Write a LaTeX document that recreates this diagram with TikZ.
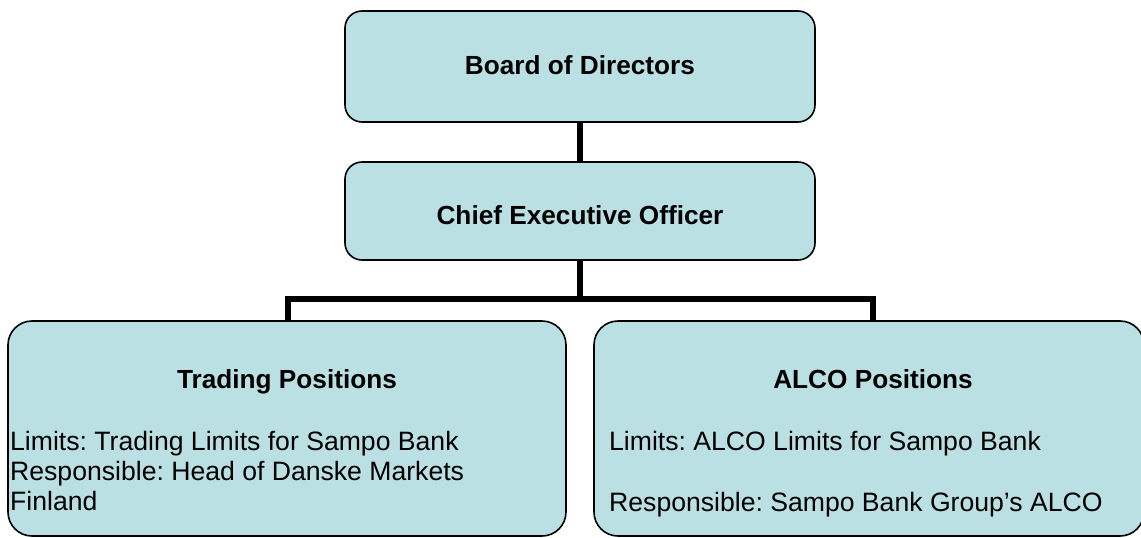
\documentclass[tikz,border=0pt]{standalone}
\usepackage{fontspec}
\setmainfont{Liberation Sans}
\usetikzlibrary{backgrounds}
\frenchspacing
\definecolor{boxfill}{RGB}{187,224,227}
\tikzset{
  x=1pt, y=-1pt,
  topbox/.style={draw=black, line width=1.6pt, fill=boxfill, rounded corners=17pt,
    rectangle, inner sep=0pt, minimum width=470pt, minimum height=#1},
  botbox/.style={draw=black, line width=1.6pt, fill=boxfill, rounded corners=24pt,
    rectangle, inner sep=0pt, minimum height=215pt, minimum width=#1},
  conn/.style={draw=black, line width=6.5pt, line join=miter},
  title/.style={font=\fontsize{26.2}{30}\selectfont\bfseries, anchor=base, inner sep=0pt},
  body/.style={font=\fontsize{26.6}{30}\selectfont, anchor=base west, inner sep=0pt},
}
\begin{document}
\begin{tikzpicture}
\useasboundingbox (0,0) rectangle (1141,538);
% boxes
\node[topbox=111pt] (board) at (580,66.5) {};
\node[topbox=98pt] (ceo) at (580,211) {};
\node[botbox=558pt] (trade) at (287,428.5) {};
\node[botbox=550pt] (alco) at (869,428.5) {};
\coordinate (alcotop) at (873,321);
% connectors, behind the boxes
\begin{scope}[on background layer]
\draw[conn] (board.south) -- (ceo.north);
\draw[conn] (ceo.south) -- ++(0,40);
\draw[conn] ([xshift=1pt]trade.north) -- ++(0,-21) -| (alcotop);
\end{scope}
% texts
\node[title] (boardtxt) at (580,74) {Board of Directors};
\node[title] (ceotxt) at (580,224) {Chief Executive Officer};
\node[title] (tradetxt) at (287,388) {Trading Positions};
\node[body] (tl1) at (10,450) {Limits: Trading Limits for Sampo Bank};
\node[body] (tl2) at (10,480) {Responsible: Head of Danske Markets};
\node[body] (tl3) at (10,510) {Finland};
\node[title] (alcotxt) at (873,388) {ALCO Positions};
\node[body] (al1) at (609,450) {Limits: ALCO Limits for Sampo Bank};
\node[body] (al2) at (609,511) {Responsible: Sampo Bank Group’s ALCO};
\end{tikzpicture}
\end{document}
